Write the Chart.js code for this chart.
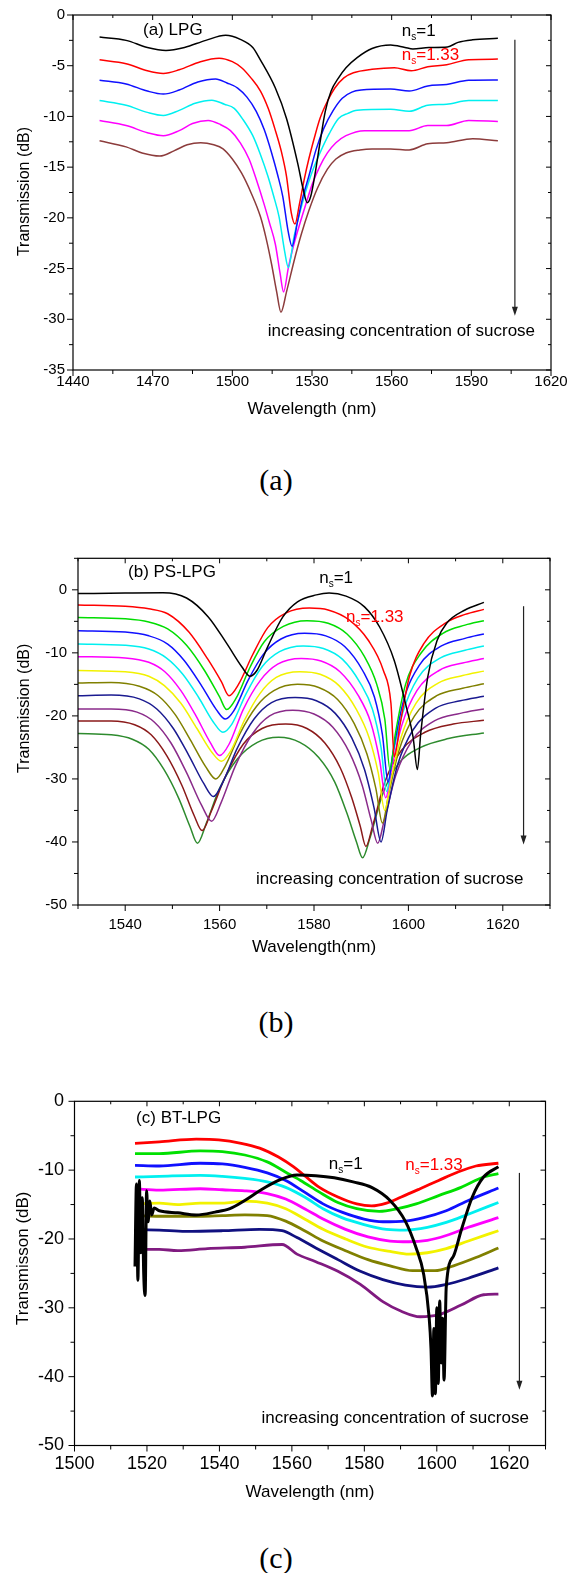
<!DOCTYPE html>
<html>
<head>
<meta charset="utf-8">
<title>LPG / PS-LPG / BT-LPG transmission spectra</title>
<script src="https://cdn.jsdelivr.net/npm/chart.js@4.4.1/dist/chart.umd.min.js"></script>
<style>
  html, body { margin: 0; padding: 0; background: #fff; }
  body { width: 576px; height: 1573px; position: relative; overflow: hidden; }
  canvas { position: absolute; left: 0; }
  .cap { position: absolute; left: 0; width: 552px; text-align: center; font-family: "Liberation Serif", "Times New Roman", serif; font-size: 30px; line-height: 34px; color: #000; }
</style>
</head>
<body>
<canvas id="chartA" width="576" height="422" style="top:0px"></canvas>
<div class="cap" style="top:463px">(a)</div>
<canvas id="chartB" width="576" height="440" style="top:520px"></canvas>
<div class="cap" style="top:1005px">(b)</div>
<canvas id="chartC" width="576" height="435" style="top:1070px"></canvas>
<div class="cap" style="top:1541px">(c)</div>

<script>
const FONT = '"Liberation Sans", Arial, sans-serif';

// ---------- (a) LPG : wavelength (nm), transmission (dB) ----------
const lpgXLabels = [1440, 1470, 1500, 1530, 1560, 1590, 1620];
const lpgYLabels = [0, -5, -10, -15, -20, -25, -30, -35];

const lpgBlack = [[1450,-2.18],[1460,-2.5],[1468,-3.2],[1475,-3.5],[1482,-3.2],[1490,-2.5],[1497.5,-2.0],[1503,-2.4],[1507.7,-3.2],[1510.5,-4.4],[1516.2,-7.2],[1520.4,-10.2],[1524.6,-14.6],[1526.7,-17.2],[1528.2,-18.5],[1529.5,-17.9],[1531,-15.9],[1533,-12.6],[1535,-9.5],[1537.2,-7.5],[1540,-6.2],[1542.8,-5.2],[1547,-4.2],[1552.6,-3.3],[1559.6,-2.95],[1565,-3.2],[1568,-3.35],[1574,-3.2],[1581,-3.15],[1585,-2.7],[1590.5,-2.45],[1600,-2.3]];
const lpgRed = [[1450,-4.42],[1460,-4.8],[1468,-5.5],[1474,-5.76],[1480,-5.4],[1488,-4.6],[1495,-4.26],[1500,-4.6],[1503.5,-5.2],[1507,-6.2],[1510.6,-7.5],[1513.5,-9.2],[1516,-11.2],[1518.5,-13.5],[1520.4,-15.9],[1522.2,-19.5],[1523.6,-20.6],[1525.3,-18.6],[1527,-16.3],[1528.8,-14.2],[1531,-12.0],[1533,-10.2],[1536,-8.4],[1538.6,-7.2],[1542,-6.2],[1545.6,-5.7],[1552.6,-5.36],[1561,-5.2],[1567.4,-5.5],[1573.6,-5.1],[1580.7,-4.9],[1589,-4.4],[1600,-4.35]];
const lpgBlue = [[1450,-6.43],[1460,-6.8],[1468,-7.5],[1474,-7.8],[1480,-7.4],[1487,-6.6],[1493.7,-6.3],[1498,-6.7],[1502,-7.2],[1505.5,-8.1],[1509,-9.5],[1512,-11.3],[1514.8,-13.6],[1517,-15.7],[1519,-17.9],[1521,-21.3],[1522.5,-22.8],[1524.6,-20.3],[1526.5,-18.0],[1528.8,-15.9],[1531.5,-13.3],[1534.4,-11.2],[1538,-9.4],[1541.4,-8.2],[1545,-7.6],[1548.5,-7.4],[1559.6,-7.3],[1566.6,-7.5],[1573.6,-7.0],[1580.7,-6.85],[1589,-6.43],[1600,-6.4]];
const lpgCyan = [[1450,-8.44],[1460,-8.9],[1468,-9.6],[1474,-9.9],[1480,-9.4],[1486,-8.7],[1492.3,-8.4],[1497,-8.8],[1500.7,-9.2],[1504,-10.3],[1507.7,-11.9],[1510.5,-13.7],[1513.4,-15.9],[1515.5,-17.8],[1517.6,-19.9],[1519.7,-23.3],[1521.1,-24.9],[1523.2,-21.9],[1525.3,-19.6],[1527.4,-17.6],[1530,-15.5],[1533,-13.6],[1536.5,-11.7],[1540,-10.2],[1543.5,-9.7],[1547,-9.4],[1559.6,-9.3],[1566.6,-9.5],[1573.6,-8.9],[1580.7,-8.8],[1589,-8.44],[1600,-8.44]];
const lpgMagenta = [[1450,-10.4],[1460,-10.9],[1468,-11.6],[1474,-11.9],[1480,-11.4],[1485,-10.7],[1490.9,-10.4],[1495.5,-10.8],[1499.3,-11.4],[1503,-12.6],[1506.3,-14.2],[1509,-16.2],[1511.9,-18.6],[1514,-20.5],[1516.2,-22.6],[1518,-25.5],[1519.3,-27.3],[1521.1,-24.9],[1522.8,-23.0],[1524.6,-21.3],[1527.5,-18.8],[1530.2,-16.6],[1533,-14.9],[1535.8,-13.6],[1539,-12.6],[1542.8,-11.9],[1549.8,-11.4],[1559.6,-11.4],[1566.6,-11.4],[1573.6,-10.9],[1580.7,-10.9],[1589,-10.4],[1600,-10.5]];
const lpgBrown = [[1450,-12.4],[1460,-13.0],[1466,-13.6],[1472.7,-13.9],[1478,-13.4],[1483,-12.8],[1488.1,-12.6],[1493,-12.8],[1496.5,-13.2],[1500,-14.2],[1503.5,-15.6],[1507,-17.5],[1510.6,-19.9],[1512.7,-22.0],[1514.8,-24.6],[1516.7,-27.3],[1518.3,-29.3],[1520.4,-27.3],[1523.2,-24.3],[1526,-21.6],[1528.8,-19.3],[1532,-17.1],[1535.8,-15.2],[1539,-14.2],[1542.8,-13.6],[1548,-13.3],[1552.6,-13.2],[1559.6,-13.2],[1566.6,-13.3],[1573.6,-12.7],[1580.7,-12.6],[1590.5,-12.2],[1600,-12.4]];

// ---------- (b) PS-LPG ----------
const psXLabels = [1540, 1560, 1580, 1600, 1620];
const psYLabels = [0, -10, -20, -30, -40, -50];

const psBlack = [[1530,-0.6],[1540,-0.5],[1548,-0.45],[1553,-1.3],[1557.6,-4.3],[1561.5,-8.5],[1564.7,-12.2],[1566.4,-13.7],[1567.9,-12.8],[1570.2,-9.0],[1573.4,-4.3],[1576.5,-1.9],[1580.5,-0.8],[1583.2,-0.5],[1586.8,-1.0],[1590.7,-2.7],[1593.9,-5.9],[1597,-11.2],[1599.4,-18.1],[1601,-23.4],[1601.9,-28.5],[1602.6,-22.9],[1604.1,-13.8],[1606.1,-8.0],[1608.1,-5.3],[1612,-3.2],[1616,-2.0]];
const psRed = [[1530,-2.4],[1540,-2.6],[1545,-3.0],[1549,-3.8],[1553.5,-6.7],[1557.5,-11.0],[1560.4,-14.6],[1562,-16.8],[1564,-15.0],[1567,-10.3],[1570.2,-6.0],[1574,-3.7],[1579,-2.9],[1583,-3.2],[1587.5,-4.8],[1591.5,-8.0],[1594.7,-12.8],[1596.3,-18.0],[1597,-26.5],[1598.2,-21.5],[1600.2,-13.8],[1603.3,-8.5],[1608,-5.2],[1612,-3.9],[1616,-3.1]];
const psGreen = [[1530,-4.4],[1540,-4.6],[1545,-5.1],[1549,-6.2],[1553,-8.8],[1556.8,-12.8],[1560,-17.0],[1561.5,-19.0],[1563.5,-17.2],[1566.5,-12.2],[1569.5,-8.2],[1573.5,-5.8],[1578.5,-4.9],[1583,-5.3],[1587,-7.0],[1590.7,-10.6],[1593.3,-15.0],[1595,-20.5],[1596.1,-28.5],[1597.2,-23.0],[1599.4,-15.0],[1602.6,-10.1],[1607.3,-6.9],[1612,-5.6],[1616,-4.9]];
const psBlue = [[1530,-6.5],[1540,-6.7],[1545,-7.3],[1549,-8.6],[1552.5,-11.2],[1556,-15.0],[1559.3,-19.0],[1561.2,-20.5],[1563,-19.2],[1566,-14.4],[1569.3,-10.2],[1573,-7.8],[1578,-6.9],[1582.5,-7.3],[1586.5,-9.0],[1590.3,-12.8],[1592.8,-17.0],[1594.5,-23.0],[1595.7,-30.5],[1596.8,-25.5],[1599,-17.5],[1602.3,-12.0],[1607,-8.9],[1612,-7.7],[1616,-7.0]];
const psCyan = [[1530,-8.6],[1540,-8.8],[1545,-9.4],[1548.7,-10.8],[1552.2,-13.4],[1555.5,-17.0],[1558.7,-21.0],[1560.7,-22.6],[1562.6,-21.3],[1565.6,-16.5],[1569,-12.2],[1572.7,-9.8],[1577.7,-8.9],[1582,-9.3],[1586,-11.0],[1589.8,-14.8],[1592.4,-19.0],[1594.2,-25.0],[1595.4,-32.0],[1596.5,-27.0],[1598.8,-19.5],[1602,-14.0],[1606.8,-10.8],[1612,-9.6],[1616,-8.9]];
const psMagenta = [[1530,-10.6],[1540,-10.8],[1545,-11.5],[1548.4,-13.0],[1551.8,-16.0],[1555,-20.0],[1558,-24.2],[1560,-26.3],[1562,-24.5],[1565,-19.0],[1568.6,-14.4],[1572.3,-11.8],[1577.3,-10.9],[1581.5,-11.3],[1585.5,-13.0],[1589.4,-16.8],[1592,-21.0],[1593.9,-27.0],[1595.2,-33.0],[1596.4,-28.5],[1598.6,-21.5],[1601.8,-16.0],[1606.5,-12.8],[1611.5,-11.6],[1616,-10.9]];
const psYellow = [[1530,-12.8],[1540,-13.0],[1545,-13.7],[1548.3,-15.2],[1551.8,-18.0],[1555.2,-22.0],[1558.4,-25.8],[1560.4,-27.2],[1562.4,-25.5],[1565.2,-20.8],[1568.5,-16.5],[1572,-13.9],[1577,-13.0],[1581.3,-13.4],[1585.3,-15.2],[1589,-19.0],[1591.7,-23.5],[1593.6,-29.0],[1595,-35.0],[1596.2,-30.5],[1598.4,-23.5],[1601.6,-18.0],[1606.3,-14.8],[1611.5,-13.6],[1616,-12.9]];
const psOlive = [[1530,-14.8],[1537,-14.7],[1543,-15.3],[1547,-16.8],[1550.6,-19.8],[1553.8,-23.8],[1557,-28.0],[1559.2,-30.0],[1561.3,-27.8],[1564.3,-22.8],[1567.8,-18.5],[1571.5,-16.0],[1576.5,-15.0],[1581,-15.5],[1585,-17.4],[1588.5,-21.2],[1591.2,-26.0],[1593.1,-31.5],[1594.5,-37.0],[1595.8,-32.5],[1598,-25.5],[1601.3,-20.0],[1606,-16.8],[1611.5,-15.6],[1616,-14.9]];
const psNavy = [[1530,-16.8],[1537,-16.7],[1543,-17.3],[1546.7,-18.9],[1550.2,-22.0],[1553.5,-26.3],[1556.7,-30.8],[1558.7,-32.8],[1560.7,-30.5],[1563.7,-25.2],[1567.3,-20.5],[1571,-17.9],[1576,-17.1],[1580.5,-17.6],[1584.5,-19.6],[1588,-23.5],[1590.7,-28.5],[1592.7,-34.5],[1594.2,-40.0],[1595.5,-35.0],[1597.7,-27.8],[1601,-22.2],[1605.7,-18.8],[1611,-17.6],[1616,-16.9]];
const psPurple = [[1530,-18.9],[1537,-18.9],[1542.5,-19.4],[1546.2,-21.0],[1549.7,-24.3],[1553,-29.0],[1556.2,-34.2],[1558.3,-36.7],[1560.3,-33.8],[1563.3,-28.0],[1567,-22.8],[1570.6,-20.0],[1575.5,-19.1],[1580,-19.7],[1584,-21.8],[1587.5,-25.8],[1590.2,-31.0],[1592.1,-36.5],[1593.5,-40.2],[1594.9,-36.5],[1597.3,-29.5],[1600.7,-24.0],[1605.5,-20.8],[1611,-19.6],[1616,-18.9]];
const psDarkRed = [[1530,-20.8],[1537,-20.8],[1542,-21.4],[1545.5,-23.0],[1548.8,-26.3],[1552,-31.0],[1554.6,-35.8],[1556.3,-38.2],[1558.2,-35.2],[1561.3,-29.5],[1565,-24.5],[1569,-22.0],[1574,-21.3],[1578.5,-22.0],[1582.3,-24.3],[1585.6,-28.3],[1588,-33.0],[1589.8,-37.5],[1591,-40.7],[1592.4,-37.5],[1595,-30.5],[1598.5,-25.5],[1603.5,-22.6],[1609.5,-21.3],[1616,-20.7]];
const psDarkGreen = [[1530,-22.8],[1537,-23.0],[1541.5,-23.7],[1545,-25.3],[1548.2,-28.5],[1551.3,-33.0],[1553.7,-37.5],[1555.3,-40.2],[1557.2,-37.0],[1560,-31.5],[1563.8,-26.8],[1568,-24.2],[1572.5,-23.4],[1577,-24.2],[1581,-26.6],[1584.4,-30.5],[1587,-35.5],[1589,-40.0],[1590.3,-42.5],[1591.8,-39.5],[1594.5,-32.5],[1598,-27.5],[1602.6,-25.0],[1608.5,-23.6],[1616,-22.7]];

// ---------- (c) BT-LPG ----------
const btXLabels = [1500, 1520, 1540, 1560, 1580, 1600, 1620];
const btYLabels = [0, -10, -20, -30, -40, -50];

const btBlack = [[1516.7,-24],[1517.1,-12],[1517.5,-26],[1517.9,-11.5],[1518.3,-22],[1518.7,-14],[1519.1,-25],[1519.5,-28.2],[1519.9,-13],[1520.3,-17.5],[1520.8,-14.5],[1521.3,-16.5],[1522,-15.5],[1523.4,-15.9],[1528.5,-16.2],[1533.6,-16.5],[1538.8,-16.1],[1542.9,-15.6],[1547,-14.4],[1551.1,-13.0],[1556.3,-11.5],[1561.4,-10.7],[1566.6,-10.8],[1571.7,-11.1],[1576.9,-11.7],[1582,-12.5],[1587.1,-14.4],[1591.3,-17.4],[1594.3,-21.3],[1596.4,-25.2],[1597.9,-31.5],[1598.4,-36],[1598.8,-42.8],[1599.2,-33],[1599.6,-42.5],[1600,-30],[1600.4,-41],[1600.8,-29],[1601.2,-38],[1601.6,-31.5],[1602,-40.5],[1602.6,-27],[1604.6,-22.5],[1606.7,-18.8],[1609.8,-13.9],[1612.9,-11.0],[1617,-9.5]];
const btRed = [[1516.7,-6.1],[1523.4,-5.9],[1533.6,-5.5],[1539.8,-5.6],[1546,-6.1],[1551.1,-6.8],[1556.3,-8.1],[1560.4,-9.5],[1563.5,-10.8],[1567.6,-12.5],[1572.7,-13.9],[1577.9,-14.9],[1582,-15.2],[1586.1,-14.8],[1590.2,-13.9],[1595.4,-12.7],[1600.5,-11.5],[1605.7,-10.3],[1610.8,-9.4],[1617,-9.0]];
const btGreen = [[1516.7,-7.6],[1523.4,-7.6],[1534.7,-7.2],[1540.8,-7.3],[1547,-7.8],[1553.2,-8.8],[1558.3,-10.3],[1562.4,-11.5],[1567.6,-13.2],[1572.7,-14.7],[1577.9,-15.6],[1584.1,-16.0],[1589.2,-15.6],[1594.3,-14.9],[1600.5,-13.7],[1606.7,-12.5],[1612.9,-11.0],[1617,-10.5]];
const btBlue = [[1516.7,-9.3],[1523.4,-9.4],[1534.7,-9.0],[1540.8,-9.1],[1547,-9.6],[1553.2,-10.4],[1558.3,-11.5],[1563.5,-13.2],[1568.6,-14.9],[1573.8,-16.1],[1579.9,-17.1],[1585.1,-17.5],[1591.3,-17.4],[1596.4,-16.9],[1602.6,-15.9],[1608.7,-14.4],[1617,-12.6]];
const btCyan = [[1516.7,-11.0],[1523.4,-10.9],[1534.7,-10.75],[1540.8,-10.9],[1547,-11.2],[1553.2,-11.7],[1558.3,-12.5],[1563.5,-13.9],[1568.6,-15.6],[1573.8,-16.9],[1579.9,-17.9],[1586.1,-18.6],[1591.3,-18.7],[1597.4,-18.3],[1602.6,-17.6],[1608.7,-16.4],[1617,-14.7]];
const btMagenta = [[1516.7,-12.7],[1523.4,-12.9],[1534.7,-12.7],[1540.8,-12.85],[1547,-13.0],[1553.2,-13.4],[1558.3,-14.2],[1563.5,-15.6],[1568.6,-17.1],[1574.8,-18.6],[1581,-19.7],[1587.1,-20.3],[1592.3,-20.4],[1597.4,-20.2],[1602.6,-19.5],[1608.7,-18.3],[1617,-16.9]];
const btYellow = [[1516.7,-14.9],[1523.4,-14.8],[1528.5,-15.0],[1534.7,-14.8],[1540.8,-14.8],[1547,-14.5],[1553.2,-14.8],[1558.3,-15.6],[1563.5,-17.1],[1568.6,-18.6],[1574.8,-20.0],[1581,-21.2],[1587.1,-21.8],[1592.3,-22.2],[1597.4,-22.0],[1602.6,-21.4],[1608.7,-20.3],[1617,-18.8]];
const btOlive = [[1516.7,-16.6],[1523.4,-16.7],[1534.7,-16.7],[1540.8,-16.6],[1547,-16.5],[1553.2,-16.6],[1558.3,-17.4],[1563.5,-18.8],[1568.6,-20.3],[1574.8,-21.7],[1581,-23.0],[1587.1,-23.9],[1593.3,-24.6],[1599.5,-24.6],[1604.6,-23.9],[1610.8,-22.7],[1617,-21.3]];
const btNavy = [[1516.7,-18.6],[1523.4,-18.7],[1530.6,-18.9],[1540.8,-18.8],[1551.1,-18.6],[1557.3,-18.8],[1561.4,-19.8],[1566.6,-21.3],[1572.7,-23.0],[1578.9,-24.7],[1585.1,-25.9],[1591.3,-26.7],[1597.4,-27.0],[1602.6,-26.6],[1608.7,-25.7],[1617,-24.2]];
const btPurple = [[1516.7,-21.5],[1523.4,-21.5],[1528.5,-21.7],[1536.7,-21.4],[1547,-21.2],[1557.3,-20.8],[1561.4,-22.2],[1566.6,-23.3],[1572.7,-24.7],[1578.9,-26.6],[1585.1,-29.1],[1590.2,-30.5],[1595.4,-31.3],[1600.5,-31.0],[1606.7,-29.6],[1612.9,-28.1],[1617,-28.0]];

// ---------- helpers ----------
function pts(arr) {
  return arr.map(p => ({ x: p[0], y: p[1] }));
}

function line(arr, color, width) {
  return {
    data: pts(arr),
    borderColor: color,
    borderWidth: width,
    pointRadius: 0,
    fill: false,
    cubicInterpolationMode: 'monotone'
  };
}

// box, mirror ticks, in-plot notes and the arrow
const frame = {
  id: 'frame',
  afterDatasetsDraw(chart, args, opts) {
    const { ctx, chartArea: a } = chart;
    const sx = chart.scales.x, sy = chart.scales.y;
    ctx.save();
    ctx.strokeStyle = '#000';
    ctx.lineWidth = 1.2;
    ctx.strokeRect(a.left, a.top, a.right - a.left, a.bottom - a.top);

    ctx.lineWidth = 1;
    ctx.beginPath();
    sx.ticks.forEach((t, i) => {
      const p = sx.getPixelForTick(i);
      const major = t.label !== '';
      ctx.moveTo(p, a.bottom); ctx.lineTo(p, a.bottom + (major ? 6 : 4));
      ctx.moveTo(p, a.top); ctx.lineTo(p, a.top + (major ? 5 : 3));
    });
    sy.ticks.forEach((t, i) => {
      const p = sy.getPixelForTick(i);
      const major = t.label !== '';
      ctx.moveTo(a.left, p); ctx.lineTo(a.left - (major ? 6 : 4), p);
      ctx.moveTo(a.right, p); ctx.lineTo(a.right - (major ? 5 : 3), p);
    });
    ctx.stroke();

    // y title (drawn here so it can sit off-centre like the original)
    if (opts.yTitle) {
      const t = opts.yTitle;
      ctx.save();
      ctx.translate(t.left, sy.getPixelForValue(t.at));
      ctx.rotate(-Math.PI / 2);
      ctx.font = t.size + 'px ' + FONT;
      ctx.fillStyle = '#000';
      ctx.textAlign = 'center';
      ctx.textBaseline = 'middle';
      ctx.fillText(t.text, 0, 0);
      ctx.restore();
    }

    ctx.textBaseline = 'middle';
    ctx.textAlign = 'left';
    (opts.notes || []).forEach(n => {
      let x = sx.getPixelForValue(n.x);
      const y = sy.getPixelForValue(n.y);
      ctx.fillStyle = n.color || '#000';
      ctx.font = '17px ' + FONT;
      ctx.fillText(n.text, x, y);
      if (n.sub) {
        x += ctx.measureText(n.text).width;
        ctx.font = '10px ' + FONT;
        ctx.fillText(n.sub, x, y + 6);
        x += ctx.measureText(n.sub).width;
        ctx.font = '17px ' + FONT;
        ctx.fillText(n.rest, x, y);
      }
    });

    const ar = opts.arrow;
    if (ar) {
      const x = sx.getPixelForValue(ar.x);
      const y1 = sy.getPixelForValue(ar.from);
      const y2 = sy.getPixelForValue(ar.to);
      ctx.strokeStyle = '#222';
      ctx.fillStyle = '#222';
      ctx.lineWidth = 1.2;
      ctx.beginPath();
      ctx.moveTo(x, y1); ctx.lineTo(x, y2 - 6);
      ctx.stroke();
      ctx.beginPath();
      ctx.moveTo(x - 3, y2 - 9); ctx.lineTo(x + 3, y2 - 9); ctx.lineTo(x, y2);
      ctx.closePath();
      ctx.fill();
    }
    ctx.restore();
  }
};

function panel(id, cfg) {
  return new Chart(document.getElementById(id), {
    type: 'line',
    data: { datasets: cfg.datasets },
    options: {
      responsive: false,
      animation: false,
      devicePixelRatio: 1,
      layout: { padding: { top: cfg.padTop, right: cfg.padRight, bottom: 0, left: 0 } },
      plugins: {
        legend: { display: false },
        tooltip: { enabled: false },
        frame: { notes: cfg.notes, arrow: cfg.arrow, yTitle: cfg.yTitle }
      },
      scales: {
        x: {
          type: 'linear', min: cfg.xMin, max: cfg.xMax,
          ticks: {
            stepSize: cfg.xStep, autoSkip: false, maxRotation: 0, padding: cfg.xPad,
            color: '#000', font: { family: FONT, size: cfg.tickSize },
            callback: v => cfg.xLabels.includes(v) ? String(v) : ''
          },
          grid: { display: false, drawTicks: false },
          border: { display: false },
          title: { display: true, text: cfg.xTitle, color: '#000', font: { family: FONT, size: 17 }, padding: { top: 0, bottom: 2 } },
          afterFit: s => { s.height = cfg.xHeight; s.paddingLeft = 0; s.paddingRight = 0; }
        },
        y: {
          type: 'linear', min: cfg.yMin, max: cfg.yMax,
          ticks: {
            stepSize: cfg.yStep, autoSkip: false, padding: cfg.yPad,
            color: '#000', font: { family: FONT, size: cfg.tickSize },
            callback: v => cfg.yLabels.includes(v) ? String(v) : ''
          },
          grid: { display: false, drawTicks: false },
          border: { display: false },
          title: { display: false },
          afterFit: s => { s.width = cfg.yWidth; s.paddingTop = 0; s.paddingBottom = 0; }
        }
      }
    },
    plugins: [frame]
  });
}

// (a)
panel('chartA', {
  datasets: [
    line(lpgBlack, '#000000', 1.5),
    line(lpgRed, '#ff0000', 1.5),
    line(lpgBlue, '#1010ff', 1.5),
    line(lpgCyan, '#00f0f0', 1.5),
    line(lpgMagenta, '#ff00ff', 1.5),
    line(lpgBrown, '#8c3c3c', 1.5)
  ],
  xMin: 1440, xMax: 1620, xStep: 15, xLabels: lpgXLabels,
  yMin: -35, yMax: 0, yStep: 2.5, yLabels: lpgYLabels,
  tickSize: 15, xPad: 2.5, yPad: 8,
  padTop: 15, padRight: 25, yWidth: 73, xHeight: 52,
  xTitle: 'Wavelength (nm)',
  yTitle: { text: 'Transmission (dB)', size: 16, left: 24.6, at: -17.4 },
  notes: [
    { x: 1466.4, y: -1.5, text: '(a) LPG' },
    { x: 1563.8, y: -1.6, text: 'n', sub: 's', rest: '=1' },
    { x: 1563.8, y: -4.0, text: 'n', sub: 's', rest: '=1.33', color: '#ff0000' },
    { x: 1513.3, y: -31.2, text: 'increasing concentration of sucrose' }
  ],
  arrow: { x: 1606.4, from: -2.45, to: -29.65 }
});

// (b)
panel('chartB', {
  datasets: [
    line(psBlack, '#000000', 1.5),
    line(psRed, '#ff0000', 1.5),
    line(psGreen, '#00dd00', 1.5),
    line(psBlue, '#1010ff', 1.5),
    line(psCyan, '#00f0f0', 1.5),
    line(psMagenta, '#ff00ff', 1.5),
    line(psYellow, '#f2f200', 1.5),
    line(psOlive, '#808000', 1.5),
    line(psNavy, '#1a1a90', 1.5),
    line(psPurple, '#8a2b8a', 1.5),
    line(psDarkRed, '#8b1a1a', 1.5),
    line(psDarkGreen, '#2e8b2e', 1.5)
  ],
  xMin: 1530, xMax: 1630, xStep: 10, xLabels: psXLabels,
  yMin: -50, yMax: 5, yStep: 5, yLabels: psYLabels,
  tickSize: 15, xPad: 11, yPad: 11,
  padTop: 38.3, padRight: 26, yWidth: 78, xHeight: 55,
  xTitle: 'Wavelength(nm)',
  yTitle: { text: 'Transmission (dB)', size: 16, left: 24.6, at: -18.8 },
  notes: [
    { x: 1540.6, y: 2.7, text: '(b) PS-LPG' },
    { x: 1581.1, y: 1.8, text: 'n', sub: 's', rest: '=1' },
    { x: 1586.8, y: -4.4, text: 'n', sub: 's', rest: '=1.33', color: '#ff0000' },
    { x: 1567.7, y: -45.9, text: 'increasing concentration of sucrose' }
  ],
  arrow: { x: 1624.4, from: -2.6, to: -40.4 }
});

// (c)
panel('chartC', {
  datasets: [
    line(btBlack, '#000000', 3),
    line(btRed, '#ff0000', 2.8),
    line(btGreen, '#00e000', 2.8),
    line(btBlue, '#1010ff', 2.8),
    line(btCyan, '#00f0f0', 2.8),
    line(btMagenta, '#ff00ff', 2.8),
    line(btYellow, '#f2f200', 2.8),
    line(btOlive, '#808000', 2.8),
    line(btNavy, '#101080', 2.8),
    line(btPurple, '#801a80', 2.8)
  ],
  xMin: 1500, xMax: 1630, xStep: 10, xLabels: btXLabels,
  yMin: -50, yMax: 0, yStep: 5, yLabels: btYLabels,
  tickSize: 18, xPad: 7.7, yPad: 10.5,
  padTop: 31.3, padRight: 30.5, yWidth: 74.5, xHeight: 59.5,
  xTitle: 'Wavelength (nm)',
  yTitle: { text: 'Transmisson (dB)', size: 17, left: 23.6, at: -22.8 },
  notes: [
    { x: 1517, y: -2.5, text: '(c) BT-LPG' },
    { x: 1570.2, y: -9.1, text: 'n', sub: 's', rest: '=1' },
    { x: 1591.3, y: -9.3, text: 'n', sub: 's', rest: '=1.33', color: '#ff0000' },
    { x: 1551.6, y: -46, text: 'increasing concentration of sucrose' }
  ],
  arrow: { x: 1622.8, from: -10.4, to: -41.9 }
});
</script>
</body>
</html>
